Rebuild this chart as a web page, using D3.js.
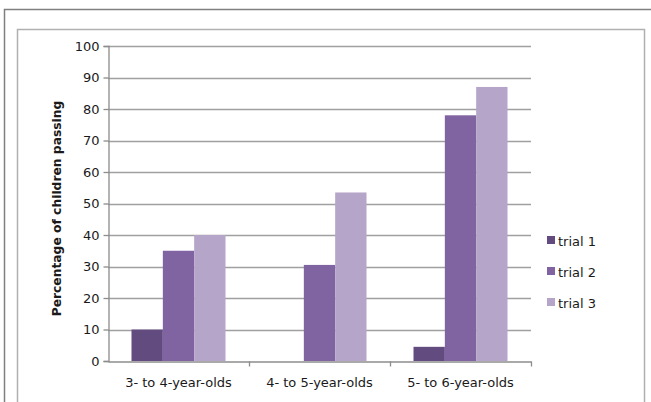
<!DOCTYPE html>
<html><head><meta charset="utf-8">
<script src="https://cdn.jsdelivr.net/npm/d3@7"></script>
<style>body{margin:0;background:#fff}svg{display:block}</style>
</head><body>
<svg id="chart" width="651" height="402"></svg>
<script>
const categories = ["3- to 4-year-olds", "4- to 5-year-olds", "5- to 6-year-olds"];
const seriesNames = ["trial 1", "trial 2", "trial 3"];
const trial1 = [10, 0, 4.5];
const trial2 = [35, 30.5, 78];
const trial3 = [40, 53.5, 87];
const yTicks = [0, 10, 20, 30, 40, 50, 60, 70, 80, 90, 100];
const colors = ["#624b7f", "#8064a2", "#b5a6c9"];
const seriesValues = [trial1, trial2, trial3];

(function () {
const svg = d3.select("#chart");
const font = "'DejaVu Sans', sans-serif";

// outer and inner frames
svg.append("rect").attr("x", 4.5).attr("y", 9.5).attr("width", 660).attr("height", 420)
  .attr("fill", "none").attr("stroke", "#7f7f7f").attr("stroke-width", 1.5);
svg.append("rect").attr("x", 17.5).attr("y", 29.5).attr("width", 627).attr("height", 400)
  .attr("fill", "none").attr("stroke", "#b0b0b0").attr("stroke-width", 1.5);

const pLeft = 108, pRight = 531, pTop = 46, pBottom = 361;
const x = d3.scaleBand().domain(categories).range([pLeft, pRight]).paddingInner(0).paddingOuter(0);
const xs = d3.scaleBand().domain(seriesNames).range([0, x.bandwidth()]).paddingInner(0).paddingOuter(0.75);
const y = d3.scaleLinear().domain([0, 100]).range([pBottom, pTop]);

// gridlines
svg.append("g").selectAll("line").data(yTicks.filter(d => d > 0)).join("line")
  .attr("x1", pLeft).attr("x2", pRight)
  .attr("y1", d => Math.round(y(d)) + 0.5).attr("y2", d => Math.round(y(d)) + 0.5)
  .attr("stroke", "#a0a0a0").attr("stroke-width", 1.5);

// bars
const groups = svg.append("g").selectAll("g").data(seriesValues).join("g")
  .attr("fill", (d, i) => colors[i]);
groups.each(function(vals, si) {
  d3.select(this).selectAll("rect").data(vals).join("rect")
    .attr("x", (d, ci) => x(categories[ci]) + xs(seriesNames[si]))
    .attr("width", xs.bandwidth())
    .attr("y", d => y(d))
    .attr("height", d => y(0) - y(d));
});

// y axis
const yAxis = d3.axisLeft(y).tickValues(yTicks).tickSize(5).tickPadding(4);
const gy = svg.append("g").attr("transform", `translate(${pLeft + 0.5},0)`).call(yAxis);
gy.select(".domain").attr("stroke", "#8c8c8c").attr("stroke-width", 1.3);
gy.selectAll(".tick line").attr("stroke", "#8c8c8c").attr("stroke-width", 1.3);
gy.selectAll(".tick text").attr("font-family", font).attr("font-size", 13).attr("fill", "#1a1a1a");

// x axis
const xAxis = d3.axisBottom(x).tickSize(0).tickPadding(16);
const gx = svg.append("g").attr("transform", `translate(0,${pBottom + 0.5})`).call(xAxis);
gx.select(".domain").attr("stroke", "#8c8c8c").attr("stroke-width", 1.3);
gx.selectAll(".tick text").attr("font-family", font).attr("font-size", 13).attr("fill", "#1a1a1a");
// category boundary ticks
gx.append("g").selectAll("line").data(categories.map(c => x(c)).concat([pRight]).slice(1)).join("line")
  .attr("x1", d => Math.round(d) + 0.5).attr("x2", d => Math.round(d) + 0.5)
  .attr("y1", 0).attr("y2", 5).attr("stroke", "#8c8c8c").attr("stroke-width", 1.3);

// y title
svg.append("text").attr("transform", `translate(61,${(pTop + pBottom) / 2 + 5}) rotate(-90)`)
  .attr("text-anchor", "middle").attr("font-family", font).attr("font-size", 12.3)
  .attr("font-weight", "bold").attr("fill", "#1a1a1a").text("Percentage of children passing");

// legend
const lg = svg.append("g").attr("transform", "translate(547,241)");
const li = lg.selectAll("g").data(seriesNames).join("g")
  .attr("transform", (d, i) => `translate(0,${i * 31})`);
li.append("rect").attr("x", 0).attr("y", -5).attr("width", 8).attr("height", 8)
  .attr("fill", (d, i) => colors[i]);
li.append("text").attr("x", 11).attr("y", 0).attr("dy", "0.35em")
  .attr("font-family", font).attr("font-size", 13).attr("fill", "#1a1a1a").text(d => d);
})();
</script>
</body></html>
